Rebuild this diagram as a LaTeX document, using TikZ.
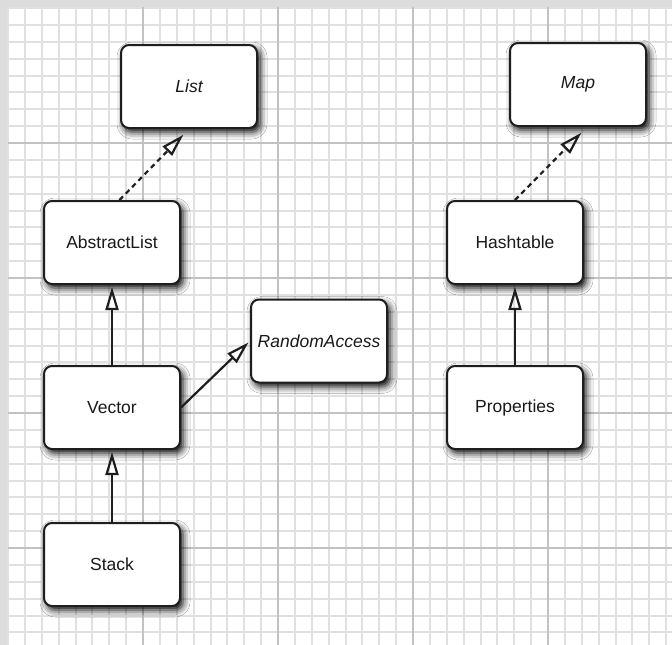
\documentclass[tikz,border=0pt]{standalone}
\usepackage{fontspec}
\setmainfont{Liberation Sans}
\usetikzlibrary{arrows.meta,shadows.blur}

\definecolor{gridminor}{HTML}{E0E0E0}
\definecolor{gridmajor}{HTML}{C2C2C2}
\definecolor{paperedge}{HTML}{DCDCDC}
\definecolor{boxborder}{HTML}{1E1E1E}

\begin{document}
\begin{tikzpicture}[x=1pt, y=-1pt,
    cls/.style={rectangle, rounded corners=8pt, draw=boxborder, line width=2pt,
                fill=white, minimum width=136pt, minimum height=83pt, inner sep=0pt,
                font=\fontsize{17.5}{20}\selectfont, text=black!90,
                blur shadow={shadow xshift=3pt, shadow yshift=-4pt,
                             shadow blur radius=7pt, shadow opacity=100}},
    iface/.style={cls, font=\fontsize{17.5}{20}\selectfont\itshape},
    extends/.style={-{Triangle[open, length=23pt, width=13pt]}, line width=2.2pt,
                    boxborder, shorten >=2pt},
    implements/.style={extends, dash pattern=on 5pt off 4pt, shorten >=8pt},
]
\useasboundingbox (0,0) rectangle (672,645);

% --- Paper and grid ---
\fill[paperedge] (0,0) rectangle (672,645);
\fill[white] (8,7) rectangle (672,645);
\foreach \k in {0,...,39}
  \draw[gridminor, line width=2pt] ({8+\k*16.875},7) -- ({8+\k*16.875},645);
\foreach \k in {0,...,37}
  \draw[gridminor, line width=2pt] (8,{8+\k*16.875}) -- (672,{8+\k*16.875});
\foreach \k in {143,278,413,548} {
  \draw[gridmajor, line width=1.2pt] (\k,7) -- (\k,645);
  \draw[gridmajor, line width=1.2pt] (8,\k) -- (672,\k);
}

% --- Interfaces ---
\node[iface] (List) at (189,86.5) {List};
\node[iface] (Map) at (578,84.5) {Map};
\node[iface] (RandomAccess) at (319,341) {RandomAccess};

% --- Classes ---
\node[cls] (AbstractList) at (112,242.5) {AbstractList};
\node[cls] (Hashtable) at (515,242.5) {Hashtable};
\node[cls] (Vector) at (112,407.5) {Vector};
\node[cls] (Properties) at (515,407.5) {Properties};
\node[cls] (Stack) at (112,564.5) {Stack};

% --- Inheritance ---
\draw[extends] (Vector) -- (AbstractList);
\draw[extends] (Stack) -- (Vector);
\draw[extends] (Properties) -- (Hashtable);

% --- Implementation ---
\draw[implements] (AbstractList.80) -- (List.south);
\draw[implements] (Hashtable.north) -- (Map.282);
\draw[extends] (Vector.east) -- (RandomAccess.west);

\end{tikzpicture}
\end{document}
